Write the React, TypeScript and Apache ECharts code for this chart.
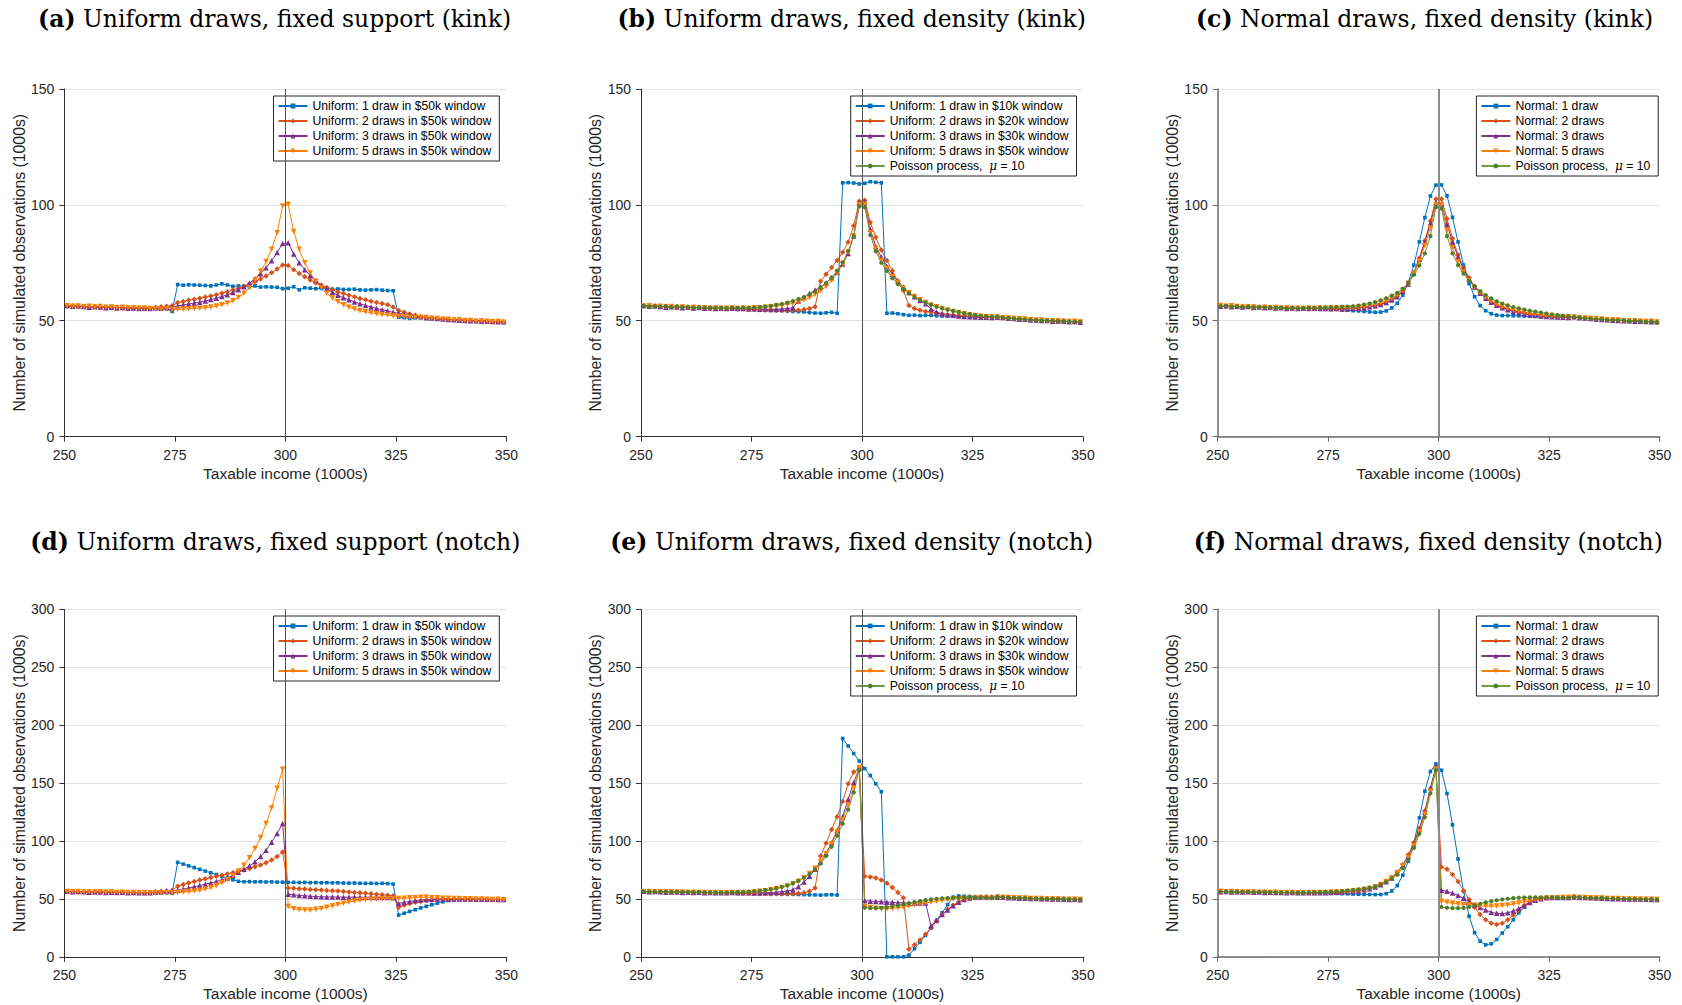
import React, { useEffect, useRef } from "react";
import * as echarts from "echarts";

// ---------- x positions: bin centres (1.25k bins from 250 to 350) ----------
const BIN_START = 250.625;
const BIN_WIDTH = 1.25;
const X = Array.from({ length: 80 }, (_, k) => BIN_START + BIN_WIDTH * k);

// ---------- shared flat tails (k0..k15 : 250.6-269.4, k64..k79 : 330.6-349.4) ----------
const L1 = [56.4, 56.1, 56.3, 56.0, 56.2, 55.9, 56.1, 55.8, 55.9, 55.6, 55.8, 55.5, 55.6, 55.4, 55.5, 55.3];
const L2 = [56.2, 56.4, 56.0, 56.2, 55.9, 56.1, 55.7, 55.9, 55.6, 55.8, 55.5, 55.6, 55.3, 55.5, 55.2, 55.4];
const L3 = [56.5, 56.2, 56.4, 56.1, 55.8, 56.0, 55.9, 55.6, 55.8, 55.5, 55.7, 55.4, 55.5, 55.3, 55.4, 55.2];
const R1 = [51.6, 51.3, 51.2, 50.9, 50.8, 50.7, 50.4, 50.3, 50.3, 50.0, 49.9, 50.0, 49.7, 49.6, 49.7, 49.4];
const R2 = [51.5, 51.4, 51.0, 50.9, 50.6, 50.6, 50.3, 50.3, 50.1, 50.1, 49.8, 49.9, 49.7, 49.5, 49.6, 49.3];
const R3 = [51.7, 51.3, 51.1, 50.9, 50.7, 50.5, 50.4, 50.2, 50.1, 50.0, 50.0, 49.8, 49.8, 49.6, 49.5, 49.5];

// ---------- (a) Uniform draws, fixed support (kink) : k16..k63 ----------
const A1_MID = [
  55.2, 55.0, 55.1, 54.0, 65.6, 65.3, 65.5, 65.4,
  65.3, 65.2, 65.0, 65.4, 65.9, 65.4, 64.8, 65.0,
  64.9, 64.6, 65.0, 64.5, 64.6, 64.5, 64.4, 63.8,
  64.0, 64.6, 63.3, 64.2, 64.0, 63.8, 63.9, 64.0,
  63.6, 63.7, 63.5, 63.5, 63.6, 63.3, 63.2, 63.3,
  63.4, 63.2, 63.0, 62.9, 51.5, 51.3, 51.0, 51.2,
];
const A2_MID = [
  55.8, 56.0, 56.2, 56.4, 57.8, 58.3, 58.8, 59.2,
  59.7, 60.2, 60.7, 61.2, 61.8, 62.5, 63.2, 64.0,
  64.8, 65.8, 66.8, 68.0, 69.3, 70.7, 72.3, 74.0,
  73.8, 72.0, 70.4, 69.0, 67.6, 66.3, 65.3, 64.3,
  63.3, 62.4, 61.7, 61.0, 60.3, 59.6, 59.0, 58.4,
  57.8, 57.4, 56.9, 55.9, 54.4, 53.6, 52.9, 52.3,
];
const A3_MID = [
  55.6, 55.5, 55.7, 55.8, 56.3, 56.8, 57.2, 57.6,
  58.0, 58.5, 59.1, 59.7, 60.4, 61.2, 62.2, 63.3,
  64.6, 66.2, 68.1, 70.3, 72.8, 75.9, 79.4, 83.3,
  83.6, 78.8, 75.0, 72.0, 69.5, 67.3, 65.3, 63.7,
  62.2, 61.0, 59.9, 59.0, 58.1, 57.3, 56.6, 55.9,
  55.3, 54.7, 54.2, 53.6, 53.2, 52.8, 52.4, 52.0,
];
const A4_MID = [
  55.0, 54.9, 55.1, 54.8, 54.9, 55.0, 55.1, 55.3,
  55.4, 55.6, 55.9, 56.3, 56.9, 57.6, 58.6, 60.0,
  61.8, 64.2, 67.5, 71.3, 75.5, 80.8, 88.0, 99.5,
  100.3, 88.5, 80.8, 75.0, 70.6, 67.0, 64.2, 61.8,
  59.8, 58.2, 56.9, 55.8, 55.0, 54.3, 53.8, 53.4,
  53.0, 52.7, 52.4, 52.1, 51.9, 51.7, 51.5, 51.4,
];

// ---------- (b) Uniform draws, fixed density (kink) ----------
const B1_MID = [
  55.0, 55.2, 54.9, 55.0, 54.8, 54.7, 54.8, 54.5,
  54.4, 54.3, 54.2, 54.0, 53.9, 53.8, 53.5, 53.3,
  53.2, 53.4, 53.6, 53.2, 109.5, 109.6, 109.4, 109.0,
  109.3, 110.0, 109.7, 109.5, 53.2, 53.3, 53.0, 52.6,
  52.3, 52.4, 52.2, 52.3, 52.3, 52.1, 52.0, 52.0,
  51.9, 51.8, 51.7, 51.6, 51.5, 51.4, 51.4, 51.5,
];
const B2_MID = [
  55.3, 55.0, 55.2, 54.8, 54.9, 54.7, 54.5, 54.6,
  54.4, 54.5, 54.3, 54.6, 54.5, 54.8, 55.2, 56.0,
  67.0, 70.0, 73.0, 76.0, 79.5, 84.0, 91.0, 101.5,
  102.0, 92.5, 86.0, 80.5, 76.0, 71.5, 67.0, 63.0,
  56.5, 55.2, 54.5, 54.0, 53.6, 53.2, 52.9, 52.6,
  52.4, 52.2, 52.0, 51.9, 51.8, 51.7, 51.6, 51.6,
];
const B3_MID = [
  55.4, 55.2, 55.3, 55.0, 55.1, 54.9, 55.0, 54.8,
  54.9, 55.0, 55.2, 55.6, 58.5, 60.0, 61.7, 63.2,
  64.5, 66.3, 68.5, 71.0, 74.5, 79.0, 86.5, 101.0,
  101.3, 89.5, 82.0, 77.5, 73.5, 70.0, 67.0, 64.5,
  62.2, 60.3, 58.7, 57.3, 55.0, 53.7, 53.0, 52.6,
  52.3, 52.0, 51.8, 51.7, 51.6, 51.5, 51.5, 51.4,
];
const B4_MID = [
  55.5, 55.3, 55.4, 55.3, 55.5, 55.6, 55.8, 56.0,
  56.3, 56.6, 57.0, 57.5, 58.2, 59.0, 60.0, 61.3,
  62.8, 64.8, 67.3, 70.5, 74.5, 79.5, 86.5, 100.0,
  100.2, 88.0, 81.0, 76.0, 72.5, 69.0, 66.5, 64.0,
  62.0, 60.4, 59.0, 57.8, 56.8, 56.0, 55.3, 54.6,
  54.0, 53.5, 53.0, 52.6, 52.2, 51.9, 51.7, 51.6,
];
const B5_MID = [
  55.6, 55.5, 55.6, 55.5, 55.7, 55.9, 56.1, 56.4,
  56.8, 57.2, 57.8, 58.5, 59.3, 60.2, 61.3, 62.6,
  64.2, 66.2, 68.6, 71.6, 75.2, 80.0, 86.5, 99.3,
  99.0, 87.0, 80.0, 75.0, 71.5, 68.3, 65.8, 63.6,
  61.8, 60.2, 58.9, 57.8, 56.8, 56.0, 55.3, 54.7,
  54.2, 53.7, 53.2, 52.8, 52.4, 52.1, 51.9, 51.7,
];

// ---------- (c) Normal draws, fixed density (kink) ----------
const C1_MID = [
  55.3, 55.1, 55.2, 55.0, 54.9, 55.0, 54.7, 54.5,
  54.3, 54.2, 54.0, 53.8, 53.6, 53.7, 54.2, 55.5,
  57.5, 61.0, 66.5, 74.0, 84.0, 94.5, 103.8, 108.5,
  108.6, 103.9, 94.6, 84.0, 74.0, 66.0, 60.3, 56.5,
  54.3, 53.0, 52.4, 52.2, 52.2, 52.1, 52.1, 52.0,
  51.9, 51.8, 51.7, 51.6, 51.5, 51.4, 51.3, 51.3,
];
const C2_MID = [
  55.4, 55.2, 55.4, 55.1, 55.2, 55.0, 55.1, 55.3,
  55.4, 55.6, 55.8, 56.1, 56.6, 57.2, 58.0, 59.1,
  60.5, 62.8, 66.0, 70.8, 77.0, 84.5, 93.0, 102.5,
  102.5, 94.0, 85.5, 78.5, 73.0, 68.5, 64.8, 62.0,
  59.8, 58.0, 56.7, 55.7, 54.9, 54.3, 53.8, 53.4,
  53.0, 52.7, 52.4, 52.1, 51.9, 51.8, 51.7, 51.6,
];
const C3_MID = [
  55.3, 55.4, 55.2, 55.3, 55.1, 55.2, 55.0, 55.1,
  55.2, 55.4, 55.6, 56.0, 56.4, 57.0, 57.8, 58.9,
  60.3, 62.6, 65.8, 70.5, 76.5, 84.0, 92.0, 101.0,
  100.5, 91.5, 84.0, 77.5, 72.3, 68.0, 64.5, 61.8,
  59.7, 58.0, 56.7, 55.6, 54.7, 54.0, 53.4, 53.0,
  52.6, 52.3, 52.0, 51.8, 51.7, 51.6, 51.5, 51.4,
];
const C4_MID = [
  55.4, 55.3, 55.5, 55.4, 55.5, 55.4, 55.6, 55.5,
  55.6, 55.8, 56.1, 56.5, 57.0, 57.7, 58.6, 59.7,
  61.0, 63.0, 66.0, 70.2, 75.8, 82.5, 90.0, 100.0,
  100.0, 89.0, 81.5, 75.5, 71.0, 67.3, 64.3, 62.0,
  60.0, 58.4, 57.2, 56.2, 55.4, 54.7, 54.1, 53.6,
  53.2, 52.8, 52.5, 52.2, 51.9, 51.8, 51.7, 51.6,
];
const C5_MID = [
  55.6, 55.5, 55.6, 55.7, 55.8, 55.9, 56.0, 56.1,
  56.2, 56.5, 56.9, 57.4, 58.0, 58.8, 59.7, 60.8,
  62.0, 63.8, 66.3, 69.8, 73.8, 79.0, 86.5, 99.0,
  98.5, 86.5, 79.0, 74.0, 70.3, 67.3, 64.8, 62.7,
  61.0, 59.6, 58.4, 57.4, 56.6, 55.9, 55.3, 54.8,
  54.3, 53.9, 53.5, 53.1, 52.7, 52.4, 52.1, 51.9,
];

// ---------- (d) Uniform draws, fixed support (notch) ----------
const D1_MID = [
  55.4, 55.2, 55.3, 54.9, 81.5, 80.0, 78.5, 77.0,
  75.5, 74.0, 72.5, 71.0, 69.5, 68.0, 66.5, 65.2,
  64.8, 64.9, 64.7, 64.8, 64.6, 64.7, 64.5, 64.4,
  64.2, 64.3, 64.1, 64.2, 64.0, 64.1, 63.9, 64.0,
  63.8, 63.9, 63.7, 63.6, 63.7, 63.5, 63.4, 63.5,
  63.3, 63.4, 63.2, 62.8, 36.0, 37.6, 39.2, 40.7,
];
const D1_R = [42.2, 43.6, 45.0, 46.3, 47.5, 48.6, 49.4, 49.8, 50.0, 50.0, 49.9, 49.8, 49.7, 49.6, 49.5, 49.4];
const D2_MID = [
  56.2, 56.5, 56.8, 57.3, 61.0, 62.4, 63.8, 65.0,
  66.2, 67.3, 68.4, 69.5, 70.5, 71.5, 72.6, 73.8,
  75.0, 76.3, 77.7, 79.3, 81.2, 83.5, 86.5, 90.5,
  59.5, 59.1, 58.8, 58.5, 58.2, 57.9, 57.6, 57.3,
  57.0, 56.7, 56.4, 56.0, 55.6, 55.2, 54.8, 54.4,
  54.0, 53.6, 53.2, 52.6, 42.5, 44.5, 46.0, 47.0,
];
const D2_R = [47.8, 48.5, 49.0, 49.4, 49.6, 49.7, 49.8, 49.8, 49.7, 49.7, 49.6, 49.6, 49.5, 49.5, 49.4, 49.4];
const D3_MID = [
  56.0, 56.2, 56.5, 56.8, 57.5, 58.4, 59.4, 60.4,
  61.5, 62.6, 63.8, 65.0, 66.4, 68.0, 70.3, 73.0,
  75.5, 78.5, 82.0, 86.5, 92.0, 99.0, 106.5, 115.0,
  54.0, 53.5, 53.0, 52.6, 52.3, 52.0, 51.8, 51.7,
  51.6, 51.6, 51.5, 51.5, 51.5, 51.4, 51.4, 51.4,
  51.3, 51.3, 51.3, 51.0, 46.0, 47.0, 47.8, 48.5,
];
const D3_R = [49.0, 49.4, 49.6, 49.8, 49.9, 49.9, 49.9, 49.9, 49.8, 49.8, 49.7, 49.7, 49.6, 49.6, 49.5, 49.5];
const D4_MID = [
  55.4, 55.2, 55.4, 55.3, 55.6, 55.9, 56.3, 56.8,
  57.5, 58.5, 59.8, 61.5, 64.0, 66.5, 70.0, 74.0,
  79.0, 85.5, 93.5, 103.0, 115.0, 128.5, 145.5, 162.0,
  43.5, 41.5, 40.8, 40.5, 40.5, 41.0, 41.8, 42.8,
  44.0, 45.2, 46.3, 47.3, 48.1, 48.8, 49.3, 49.7,
  50.0, 50.1, 50.2, 50.2, 50.3, 50.6, 50.9, 51.0,
];

// ---------- (e) Uniform draws, fixed density (notch) ----------
const E1_MID = [
  55.2, 55.0, 55.1, 54.9, 54.8, 54.6, 54.7, 54.4,
  54.3, 54.2, 54.0, 54.0, 53.8, 53.7, 53.5, 53.4,
  53.3, 53.5, 53.6, 53.3, 188.5, 182.0, 175.5, 169.0,
  162.5, 156.5, 149.5, 142.5, 0, 0, 0, 0,
  1.5, 7.0, 12.5, 18.5, 25.0, 31.5, 38.0, 45.0,
  51.5, 52.5, 52.3, 52.1, 51.8, 51.7, 51.6, 51.5,
];
const E2_MID = [
  55.2, 55.0, 54.8, 54.7, 54.6, 54.4, 54.5, 54.3,
  54.4, 54.2, 54.4, 54.5, 54.8, 55.3, 56.5, 59.5,
  87.0, 98.0, 110.0, 121.0, 134.0, 149.5, 159.5, 163.0,
  69.5, 69.0, 68.0, 66.3, 63.5, 59.8, 55.6, 51.0,
  6.5, 10.5, 14.5, 19.5, 25.0, 31.0, 36.5, 41.0,
  44.5, 47.5, 49.5, 50.8, 51.5, 51.8, 51.7, 51.6,
];
const E3_MID = [
  55.5, 55.3, 55.4, 55.2, 55.0, 55.1, 55.3, 55.5,
  55.8, 56.2, 56.8, 57.8, 60.5, 64.5, 69.5, 75.5,
  82.0, 89.5, 98.5, 109.0, 121.0, 136.0, 150.5, 163.0,
  48.5, 48.0, 47.8, 47.5, 47.2, 47.0, 46.8, 46.6,
  46.5, 46.4, 46.5, 46.5, 26.5, 31.5, 36.5, 40.5,
  44.0, 47.0, 49.5, 50.7, 51.4, 51.7, 51.8, 51.6,
];
const E4_MID = [
  55.5, 55.4, 55.6, 55.5, 56.0, 56.5, 57.0, 57.8,
  58.7, 59.8, 61.2, 63.0, 65.3, 68.2, 72.0, 76.5,
  82.0, 89.0, 97.5, 107.5, 118.5, 131.5, 145.5, 163.5,
  43.5, 42.5, 42.0, 41.5, 41.5, 41.8, 42.3, 43.0,
  43.8, 44.7, 45.6, 46.5, 47.3, 48.0, 48.7, 49.3,
  49.8, 50.2, 50.5, 50.6, 50.7, 50.7, 50.6, 50.5,
];
const E5_MID = [
  55.7, 55.8, 55.9, 56.1, 56.5, 57.0, 57.6, 58.3,
  59.2, 60.3, 61.7, 63.4, 65.5, 68.2, 71.5, 75.5,
  80.5, 87.0, 95.0, 104.5, 115.0, 127.0, 142.0, 161.0,
  42.5, 42.0, 42.0, 42.3, 42.8, 43.5, 44.3, 45.2,
  46.2, 47.2, 48.1, 48.9, 49.6, 50.1, 50.5, 50.8,
  51.0, 51.1, 51.2, 51.2, 51.1, 51.0, 50.9, 50.8,
];

// ---------- (f) Normal draws, fixed density (notch) ----------
const F1_MID = [
  55.2, 55.0, 55.1, 54.9, 54.8, 54.7, 54.5, 54.4,
  54.2, 54.0, 53.9, 53.8, 53.7, 53.8, 54.5, 56.8,
  61.5, 70.5, 82.5, 98.0, 120.0, 143.0, 160.0, 166.5,
  161.0, 141.0, 114.0, 84.5, 56.5, 35.0, 20.8, 13.5,
  10.3, 11.2, 15.0, 20.5, 26.0, 32.0, 38.0, 43.0,
  47.0, 49.5, 50.8, 51.2, 51.3, 51.2, 51.1, 51.0,
];
const F2_MID = [
  55.4, 55.3, 55.5, 55.4, 55.6, 55.8, 56.0, 56.3,
  56.7, 57.2, 57.9, 58.9, 60.5, 62.5, 65.0, 68.5,
  73.0, 79.5, 88.0, 98.5, 111.0, 126.0, 145.0, 163.0,
  77.5, 75.5, 71.0, 65.0, 57.0, 49.5, 42.5, 36.5,
  32.0, 29.0, 27.8, 29.0, 32.0, 36.0, 40.5, 44.5,
  47.5, 49.5, 50.5, 51.0, 51.2, 51.3, 51.2, 51.1,
];
const F3_MID = [
  55.3, 55.4, 55.2, 55.3, 55.5, 55.7, 55.9, 56.2,
  56.6, 57.1, 57.8, 58.8, 60.3, 62.3, 64.7, 68.0,
  72.5, 79.0, 87.0, 97.5, 110.0, 125.0, 146.0, 164.0,
  57.5, 56.5, 55.0, 53.0, 50.5, 47.8, 45.0, 42.5,
  40.3, 38.5, 37.5, 37.3, 38.0, 39.5, 41.8, 44.3,
  46.8, 48.8, 50.2, 51.0, 51.3, 51.3, 51.2, 51.1,
];
const F4_MID = [
  55.5, 55.4, 55.6, 55.5, 55.7, 55.9, 56.1, 56.4,
  56.8, 57.3, 58.0, 59.0, 60.5, 62.5, 65.0, 68.3,
  72.5, 78.5, 86.0, 96.0, 108.0, 123.0, 143.0, 162.0,
  48.0, 47.0, 46.3, 45.7, 45.2, 44.8, 44.4, 44.0,
  43.8, 43.7, 43.8, 44.2, 44.8, 45.5, 46.5, 47.5,
  48.5, 49.3, 50.0, 50.5, 50.8, 51.0, 51.1, 51.1,
];
const F5_MID = [
  55.7, 55.8, 55.9, 56.0, 56.2, 56.5, 56.8, 57.2,
  57.7, 58.2, 58.9, 59.7, 60.5, 62.3, 64.5, 67.5,
  71.0, 76.5, 84.0, 94.0, 106.0, 120.5, 141.0, 161.0,
  43.0, 42.3, 42.0, 42.0, 42.2, 43.0, 44.5, 45.8,
  47.0, 48.0, 48.8, 49.5, 50.1, 50.6, 51.0, 51.2,
  51.3, 51.3, 51.3, 51.2, 51.2, 51.1, 51.0, 50.9,
];

// ---------- full series ----------
const A1 = [...L1, ...A1_MID, ...R1];
const A2 = [...L2, ...A2_MID, ...R2];
const A3 = [...L3, ...A3_MID, ...R3];
const A4 = [...L1, ...A4_MID, ...R2];
const B1 = [...L2, ...B1_MID, ...R1];
const B2 = [...L1, ...B2_MID, ...R3];
const B3 = [...L3, ...B3_MID, ...R2];
const B4 = [...L2, ...B4_MID, ...R1];
const B5 = [...L1, ...B5_MID, ...R3];
const C1 = [...L3, ...C1_MID, ...R1];
const C2 = [...L1, ...C2_MID, ...R2];
const C3 = [...L2, ...C3_MID, ...R3];
const C4 = [...L3, ...C4_MID, ...R1];
const C5 = [...L2, ...C5_MID, ...R2];
const D1 = [...L1, ...D1_MID, ...D1_R];
const D2 = [...L2, ...D2_MID, ...D2_R];
const D3 = [...L3, ...D3_MID, ...D3_R];
const D4 = [...L1, ...D4_MID, ...R2];
const E1 = [...L2, ...E1_MID, ...R1];
const E2 = [...L1, ...E2_MID, ...R3];
const E3 = [...L3, ...E3_MID, ...R2];
const E4 = [...L2, ...E4_MID, ...R1];
const E5 = [...L1, ...E5_MID, ...R3];
const F1 = [...L3, ...F1_MID, ...R1];
const F2 = [...L1, ...F2_MID, ...R2];
const F3 = [...L2, ...F3_MID, ...R3];
const F4 = [...L3, ...F4_MID, ...R1];
const F5 = [...L2, ...F5_MID, ...R2];

// ---------- labels ----------
const NAMES_SUPPORT = [
  "Uniform: 1 draw in $50k window",
  "Uniform: 2 draws in $50k window",
  "Uniform: 3 draws in $50k window",
  "Uniform: 5 draws in $50k window",
];
const NAMES_DENSITY = [
  "Uniform: 1 draw in $10k window",
  "Uniform: 2 draws in $20k window",
  "Uniform: 3 draws in $30k window",
  "Uniform: 5 draws in $50k window",
  "Poisson process,  μ = 10",
];
const NAMES_NORMAL = [
  "Normal: 1 draw",
  "Normal: 2 draws",
  "Normal: 3 draws",
  "Normal: 5 draws",
  "Poisson process,  μ = 10",
];
const X_NAME = "Taxable income (1000s)";
const Y_NAME = "Number of simulated observations (1000s)";

const SANS = "'Liberation Sans', Arial, Helvetica, sans-serif";
const SERIF = "'DejaVu Serif', serif";

const STYLES = [
  { line: "#0072BD", fill: "#0072BD", symbol: "rect", size: 3.6 },
  { line: "#D95319", fill: "#D95319", symbol: "diamond", size: 5.5 },
  { line: "#7E2F8E", fill: "#7E2F8E", symbol: "triangle", size: 5.5 },
  { line: "#FF8000", fill: "#FF8000", symbol: "path://M0,0L10,0L5,8.66Z", size: 5.5 },
  { line: "#6E9E3A", fill: "#4E7E2A", symbol: "circle", size: 4.2 },
];

const PANELS = [
  { tag: "(a)", title: " Uniform draws, fixed support (kink)", tx: 274.6, ty: 19.3, gx: 64.4, gy: 89, ymax: 150, names: NAMES_SUPPORT, data: [A1, A2, A3, A4], lx: 273.5, ly: 96, strong: false },
  { tag: "(b)", title: " Uniform draws, fixed density (kink)", tx: 851.7, ty: 19.3, gx: 641, gy: 89, ymax: 150, names: NAMES_DENSITY, data: [B1, B2, B3, B4, B5], lx: 850.7, ly: 96, strong: false },
  { tag: "(c)", title: " Normal draws, fixed density (kink)", tx: 1424.6, ty: 19.3, gx: 1217.7, gy: 89, ymax: 150, names: NAMES_NORMAL, data: [C1, C2, C3, C4, C5], lx: 1476.4, ly: 96, strong: true },
  { tag: "(d)", title: " Uniform draws, fixed support (notch)", tx: 275.3, ty: 541.7, gx: 64.4, gy: 609.3, ymax: 300, names: NAMES_SUPPORT, data: [D1, D2, D3, D4], lx: 273.5, ly: 616, strong: false },
  { tag: "(e)", title: " Uniform draws, fixed density (notch)", tx: 851.7, ty: 541.7, gx: 641, gy: 609.3, ymax: 300, names: NAMES_DENSITY, data: [E1, E2, E3, E4, E5], lx: 850.7, ly: 616, strong: false },
  { tag: "(f)", title: " Normal draws, fixed density (notch)", tx: 1428.3, ty: 541.7, gx: 1217.7, gy: 609.3, ymax: 300, names: NAMES_NORMAL, data: [F1, F2, F3, F4, F5], lx: 1476.4, ly: 616, strong: true },
];

function buildOption() {
  const grid = PANELS.map((p) => ({ left: p.gx, top: p.gy, width: 442, height: 347.5 }));
  const xAxis = PANELS.map((p, i) => {
    const axisColor = p.strong ? "#6b6b6b" : "#333333";
    return {
      type: "value",
      gridIndex: i,
      min: 250,
      max: 350,
      interval: 25,
      name: X_NAME,
      nameLocation: "middle",
      nameGap: 29,
      nameTextStyle: { fontSize: 15.5, color: "#262626", fontFamily: SANS },
      axisLine: { show: true, onZero: false, lineStyle: { color: axisColor, width: p.strong ? 1.5 : 1 } },
      axisTick: { show: true, inside: false, length: 5, lineStyle: { color: axisColor } },
      axisLabel: { fontSize: 14, color: "#262626", fontFamily: SANS, margin: 11, showMinLabel: true, showMaxLabel: true },
      splitLine: { show: false },
    };
  });
  const yAxis = PANELS.map((p, i) => {
    const axisColor = p.strong ? "#6b6b6b" : "#333333";
    return {
      type: "value",
      gridIndex: i,
      min: 0,
      max: p.ymax,
      interval: 50,
      name: Y_NAME,
      nameLocation: "middle",
      nameRotate: 90,
      nameGap: 37,
      nameTextStyle: { fontSize: 15.8, color: "#262626", fontFamily: SANS },
      axisLine: { show: true, onZero: false, lineStyle: { color: axisColor, width: p.strong ? 1.5 : 1 } },
      axisTick: { show: true, inside: false, length: 5, lineStyle: { color: axisColor } },
      axisLabel: { fontSize: 14, color: "#262626", fontFamily: SANS, margin: 10, showMinLabel: true, showMaxLabel: true },
      splitLine: { show: true, lineStyle: { color: "#e3e3e3", width: 1 } },
    };
  });
  const legend = PANELS.map((p) => ({
    left: p.lx,
    top: p.ly,
    orient: "vertical",
    data: p.names,
    itemWidth: 29,
    itemHeight: 6,
    itemGap: 1,
    padding: [3, 8, 3, 4],
    borderColor: "#262626",
    borderWidth: 1,
    backgroundColor: "#ffffff",
    selectedMode: false,
    formatter: (name: string) => name.replace("μ", "{m|μ}"),
    textStyle: {
      fontSize: 12.2,
      color: "#000000",
      fontFamily: SANS,
      lineHeight: 14,
      rich: { m: { fontStyle: "italic", fontFamily: SERIF, fontSize: 12, lineHeight: 14, color: "#000" } },
    },
  }));
  const series: any[] = [];
  PANELS.forEach((p, i) => {
    p.data.forEach((vals, j) => {
      const st = STYLES[j];
      const s: any = {
        type: "line",
        name: p.names[j],
        xAxisIndex: i,
        yAxisIndex: i,
        data: X.map((x, k) => [x, vals[k]]),
        symbol: st.symbol,
        symbolSize: st.size,
        showSymbol: true,
        showAllSymbol: true,
        lineStyle: { width: 1, color: st.line },
        itemStyle: { color: st.fill },
        emphasis: { disabled: true },
        silent: true,
        animation: false,
      };
      if (j === 0) {
        s.markLine = {
          silent: true,
          symbol: ["none", "none"],
          label: { show: false },
          animation: false,
          lineStyle: { color: p.strong ? "#8a8a8a" : "#555555", width: p.strong ? 2 : 1, type: "solid" },
          data: [{ xAxis: 300 }],
        };
      }
      series.push(s);
    });
  });
  const graphic = PANELS.map((p) => ({
    type: "text",
    x: p.tx,
    y: p.ty,
    silent: true,
    style: {
      text: "{b|" + p.tag + "}" + p.title,
      fontFamily: SERIF,
      fontSize: 23.5,
      fill: "#000000",
      align: "center",
      verticalAlign: "middle",
      textAlign: "center",
      textVerticalAlign: "middle",
      rich: { b: { fontFamily: SERIF, fontSize: 23.5, fontWeight: "bold", fill: "#000000" } },
    },
  }));
  return { animation: false, backgroundColor: "#ffffff", grid, xAxis, yAxis, legend, series, graphic };
}

export default function App() {
  const ref = useRef<HTMLDivElement>(null);
  useEffect(() => {
    if (!ref.current) return;
    const chart = echarts.init(ref.current, undefined, { renderer: "svg" });
    chart.setOption(buildOption() as any);
    return () => chart.dispose();
  }, []);
  return (
    <div
      ref={ref}
      style={{ position: "fixed", left: 0, top: 0, width: 1682, height: 1005, background: "#fff" }}
    />
  );
}
